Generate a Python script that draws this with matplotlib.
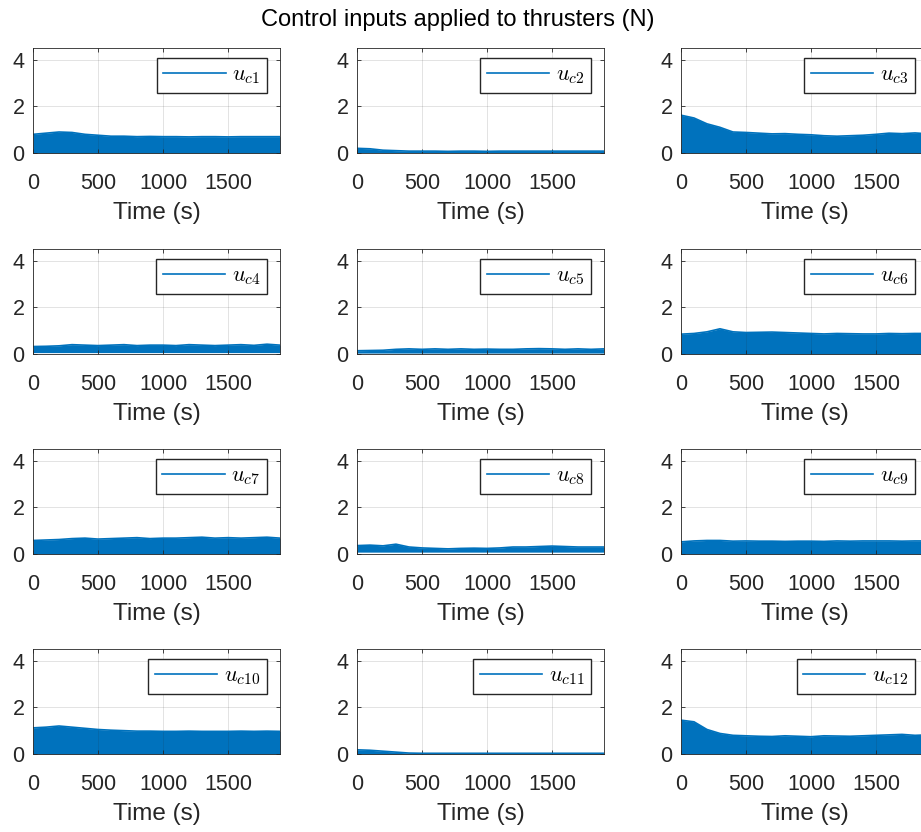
import matplotlib.pyplot as plt

plt.rcParams['font.family'] = ['Liberation Sans', 'DejaVu Sans']
plt.rcParams['mathtext.fontset'] = 'cm'

t = [0, 100, 200, 300, 400, 500, 600, 700, 800, 900,
     1000, 1100, 1200, 1300, 1400, 1500, 1600, 1700, 1800, 1900]

# upper envelope of each thruster signal (N)
u_c1 = [0.80, 0.85, 0.90, 0.88, 0.80, 0.76, 0.72, 0.72, 0.70, 0.71,
        0.70, 0.70, 0.69, 0.70, 0.70, 0.69, 0.70, 0.70, 0.70, 0.70]
u_c2 = [0.20, 0.18, 0.12, 0.10, 0.08, 0.08, 0.08, 0.07, 0.08, 0.08,
        0.07, 0.08, 0.08, 0.08, 0.08, 0.08, 0.08, 0.08, 0.08, 0.08]
u_c3 = [1.62, 1.50, 1.25, 1.10, 0.90, 0.88, 0.85, 0.82, 0.83, 0.80,
        0.78, 0.74, 0.72, 0.74, 0.76, 0.80, 0.85, 0.83, 0.86, 0.82]
u_c4 = [0.32, 0.33, 0.35, 0.40, 0.38, 0.36, 0.38, 0.40, 0.36, 0.38,
        0.38, 0.36, 0.40, 0.38, 0.36, 0.38, 0.40, 0.37, 0.42, 0.38]
u_c5 = [0.14, 0.15, 0.16, 0.20, 0.22, 0.20, 0.22, 0.20, 0.22, 0.20,
        0.21, 0.20, 0.20, 0.22, 0.23, 0.22, 0.20, 0.22, 0.20, 0.22]
u_c6 = [0.85, 0.88, 0.95, 1.08, 0.95, 0.92, 0.93, 0.94, 0.92, 0.90,
        0.88, 0.86, 0.88, 0.87, 0.86, 0.86, 0.88, 0.87, 0.88, 0.88]
u_c7 = [0.58, 0.60, 0.62, 0.66, 0.68, 0.64, 0.66, 0.68, 0.70, 0.66,
        0.68, 0.68, 0.70, 0.72, 0.68, 0.70, 0.68, 0.70, 0.72, 0.68]
u_c8 = [0.36, 0.38, 0.35, 0.42, 0.30, 0.26, 0.24, 0.22, 0.24, 0.25,
        0.24, 0.26, 0.30, 0.30, 0.32, 0.34, 0.32, 0.30, 0.30, 0.30]
u_c9 = [0.52, 0.56, 0.58, 0.58, 0.55, 0.56, 0.55, 0.55, 0.54, 0.55,
        0.55, 0.54, 0.56, 0.55, 0.56, 0.56, 0.56, 0.55, 0.56, 0.56]
u_c10 = [1.12, 1.15, 1.20, 1.15, 1.10, 1.05, 1.02, 1.00, 0.98, 0.98,
         0.97, 0.97, 0.98, 0.97, 0.97, 0.97, 0.98, 0.97, 0.98, 0.97]
u_c11 = [0.18, 0.16, 0.12, 0.08, 0.04, 0.03, 0.03, 0.03, 0.03, 0.03,
         0.03, 0.03, 0.03, 0.03, 0.03, 0.03, 0.03, 0.03, 0.03, 0.03]
u_c12 = [1.45, 1.38, 1.05, 0.88, 0.80, 0.78, 0.76, 0.75, 0.78, 0.76,
         0.74, 0.78, 0.77, 0.76, 0.78, 0.80, 0.82, 0.84, 0.80, 0.82]

upper = [u_c1, u_c2, u_c3, u_c4, u_c5, u_c6,
         u_c7, u_c8, u_c9, u_c10, u_c11, u_c12]
# lower edge of each band (N)
lower = [0.0, 0.02, 0.0, 0.06, 0.04, 0.0, 0.0, 0.08, 0.0, 0.0, 0.0, 0.0]
labels = [r'$u_{c%d}$' % (i + 1) for i in range(12)]

blue = '#0072BD'
dark = '#262626'
W, H = 921, 832

fig = plt.figure(figsize=(W / 100, H / 100), dpi=100)
fig.text(458 / W, 1 - 20 / H, 'Control inputs applied to thrusters (N)',
         ha='center', va='center', fontsize=17, color='black')

col_x = [33, 357, 681]
row_y = [48, 249, 449, 649]
aw, ah = 247, 105

for k in range(12):
    r, c = divmod(k, 3)
    ax = fig.add_axes([col_x[c] / W, 1 - (row_y[r] + ah) / H, aw / W, ah / H])
    ax.fill_between(t, lower[k], upper[k], color=blue, lw=0)
    ax.plot(t, upper[k], color=blue, lw=1.2, label=labels[k])
    ax.set_xlim(0, 1900)
    ax.set_ylim(0, 4.5)
    ax.set_xticks([0, 500, 1000, 1500])
    ax.set_yticks([0, 2, 4])
    ax.grid(True, color=dark, alpha=0.15, lw=0.6)
    ax.tick_params(direction='in', length=3, width=0.6, top=True, right=True,
                   labelsize=15.5, colors=dark, labelcolor=dark)
    ax.tick_params(axis='x', pad=14.5)
    ax.tick_params(axis='y', pad=6)
    for s in ax.spines.values():
        s.set_color(dark)
        s.set_linewidth(0.6)
    ax.set_xlabel('Time (s)', fontsize=17.5, color=dark, labelpad=6)
    ax.legend(loc='upper right', bbox_to_anchor=(1 - 13 / aw, 1 - 10 / ah),
              borderaxespad=0, fontsize=16, handlelength=2.8, handletextpad=0.3,
              borderpad=0.3, fancybox=False, framealpha=1, edgecolor=dark)

fig.savefig('out.png', dpi=100)
